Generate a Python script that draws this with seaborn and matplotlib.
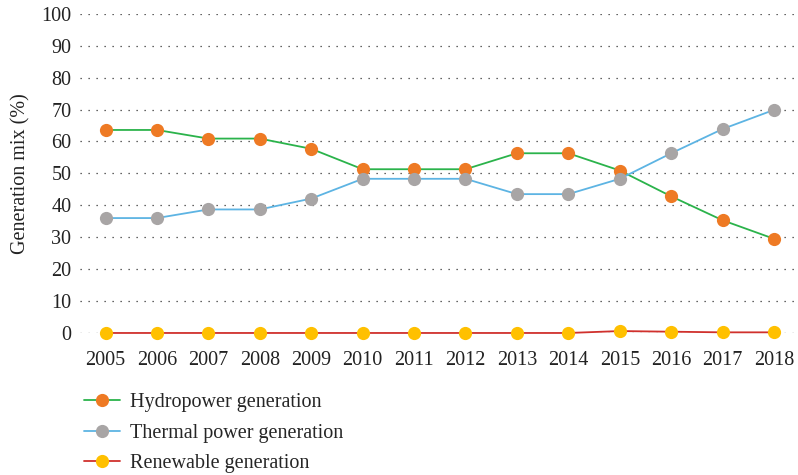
import matplotlib as mpl
import matplotlib.pyplot as plt
import numpy as np
import pandas as pd

import seaborn as sns

years = [2005, 2006, 2007, 2008, 2009, 2010, 2011, 2012, 2013, 2014, 2015, 2016, 2017, 2018]
hydro = [63.6, 63.6, 60.9, 60.9, 57.7, 51.3, 51.3, 51.3, 56.3, 56.3, 50.9, 42.8, 35.3, 29.5]
thermal = [36.0, 36.0, 38.7, 38.7, 42.1, 48.3, 48.3, 48.3, 43.5, 43.5, 48.3, 56.3, 63.9, 69.9]
renewable = [0.0, 0.0, 0.0, 0.0, 0.0, 0.0, 0.0, 0.0, 0.0, 0.0, 0.6, 0.4, 0.2, 0.2]

labels = ["Hydropower generation", "Thermal power generation", "Renewable generation"]
line_colors = ["#2bb34b", "#5db4e3", "#d0312d"]
marker_colors = ["#ee7a24", "#a8a5a5", "#ffc000"]

sns.set_style("white")
plt.rcParams['font.family'] = ['Liberation Serif', 'DejaVu Serif']

fig = plt.figure(figsize=(7.98, 4.75), dpi=100)
ax = fig.add_axes([0.1, 0.299, 0.899, 0.672])

for vals, lab, lc, mc in zip([hydro, thermal, renewable], labels, line_colors, marker_colors):
    df = pd.DataFrame({"year": years, "value": vals})
    sns.lineplot(data=df, x="year", y="value", ax=ax, color=lc, linewidth=1.3,
                 marker="o", markersize=9.5, markerfacecolor=mc, markeredgecolor=mc,
                 markeredgewidth=0, label=lab, clip_on=False)

ax.set_xlim(2004.5, 2018.45)
ax.set_ylim(0, 100)
ax.set_xticks(years)
ax.set_xticklabels([str(y) for y in years])
ax.set_yticks(np.arange(0, 101, 10))
ax.yaxis.grid(True, linestyle=(0, (1, 5.4)), color="#333333", linewidth=0.9)
ax.xaxis.grid(False)
for s in ax.spines.values():
    s.set_visible(False)
ax.tick_params(axis="both", length=0, labelsize=14.5, colors="#222222")
ax.tick_params(axis="y", pad=6)
ax.tick_params(axis="x", pad=13)
ax.set_xlabel("")
ax.set_ylabel("Generation mix (%)", fontsize=14.5, color="#222222", labelpad=8)

ax.legend(loc="upper left", bbox_to_anchor=(0.095, 0.189), bbox_transform=fig.transFigure,
          frameon=False, fontsize=14.5, handlelength=1.8, handletextpad=0.5,
          labelspacing=0.55, borderaxespad=0)

fig.savefig("out.png", dpi=100)
